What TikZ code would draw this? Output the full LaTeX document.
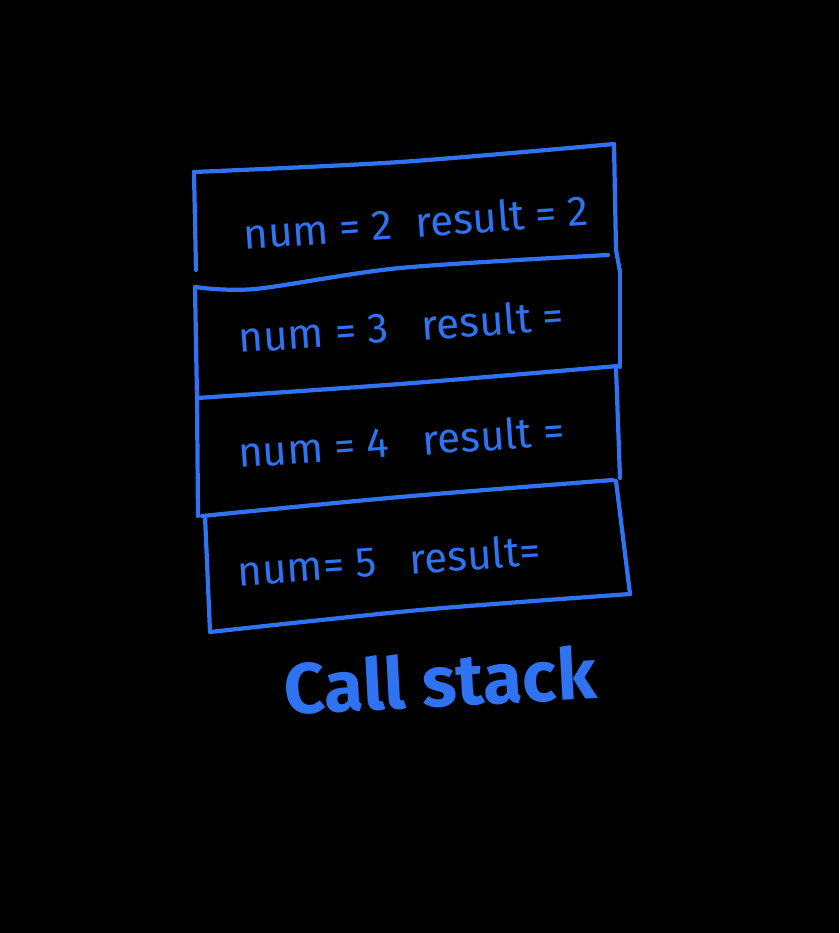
\documentclass[tikz,border=0pt]{standalone}
\usepackage{fontspec}
\setmainfont{Fira Sans}
\usepackage{xcolor}
\definecolor{inkblue}{RGB}{47,115,240}

\begin{document}
\begin{tikzpicture}[x=0.03cm, y=-0.03cm,
          edge/.style={draw=inkblue, line width=3.6pt, line cap=round, line join=round},
          frametext/.style={text=inkblue, font=\fontsize{36}{40}\selectfont, rotate=4},
          titletext/.style={text=inkblue, font=\fontsize{61}{66}\selectfont\bfseries, rotate=3}
        ]
        \fill[black] (0,0) rectangle (839,933);
        % frame outlines, top to bottom
        \draw[edge] plot[smooth] coordinates {(194,172) (400,162) (614,144)};
        \draw[edge] (194,172) -- (196,270);
        \draw[edge] (614,144) -- (616,250) -- (620,272);
        \draw[edge] plot[smooth] coordinates {(195,287) (255,289) (400,268) (608,255)};
        \draw[edge] (195,287) -- (197,398);
        \draw[edge] (620,270) -- (620,367);
        \draw[edge] plot[smooth] coordinates {(197,398) (400,384) (618,366)};
        \draw[edge] (197,398) -- (198,516);
        \draw[edge] (616,368) -- (620,478);
        \draw[edge] plot[smooth] coordinates {(202,516) (400,497) (613,480)};
        \draw[edge] (205,516) -- (210,632);
        \draw[edge] (616,481) -- (630,594);
        \draw[edge] plot[smooth] coordinates {(210,632) (420,610) (630,594)};
        % frame labels
        \node[frametext] (f2) at (416,222) {num = 2~~result = 2};
        \node[frametext] (f3) at (401,326) {num = 3~~~result =};
        \node[frametext] (f4) at (401,441) {num = 4~~~result =};
        \node[frametext] (f5) at (389,560) {num= 5~~~result=};
        \node[titletext] (stack) at (440,680) {Call stack};
      \end{tikzpicture}
\end{document}
